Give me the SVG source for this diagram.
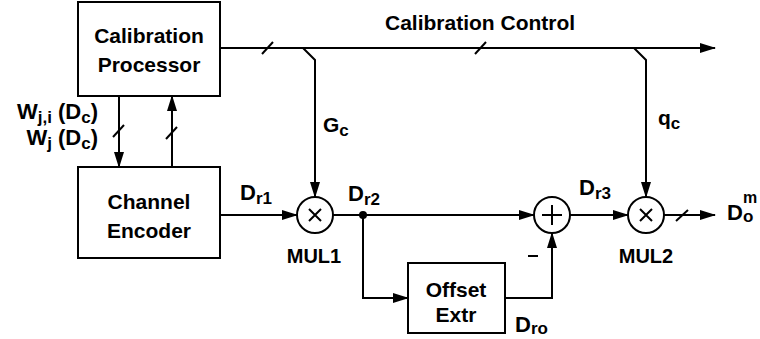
<svg xmlns="http://www.w3.org/2000/svg" width="760" height="339" viewBox="0 0 760 339">
<style>
.ln{fill:none;stroke:#000;stroke-width:2}
.bx{fill:#fff;stroke:#000;stroke-width:2}
.t{font-family:"Liberation Sans",Arial,sans-serif;font-weight:bold;font-size:21px;fill:#000}
.m{font-size:20px}
.l{font-size:22px}
.s{font-size:17px}
</style>
<defs>
<marker id="ar" markerWidth="16" markerHeight="12" refX="15" refY="6" orient="auto" markerUnits="userSpaceOnUse">
<path d="M0,1 L16,6 L0,11 Z" fill="#000"/>
</marker>
</defs>
<rect width="760" height="339" fill="#fff"/>
<g id="connectors">
<path class="ln" d="M220,48 H715" marker-end="url(#ar)"/>
<path class="ln" d="M262,54 L273,42"/>
<path class="ln" d="M475,54 L486,42"/>
<path class="ln" d="M303,48 L315,60 V197" marker-end="url(#ar)"/>
<path class="ln" d="M634,48 L646,60 V197" marker-end="url(#ar)"/>
<path class="ln" d="M119,96 V167" marker-end="url(#ar)"/>
<path class="ln" d="M113,137 L124,125"/>
<path class="ln" d="M172,167 V96" marker-end="url(#ar)"/>
<path class="ln" d="M166,139 L177,127"/>
<path class="ln" d="M220,215 H297" marker-end="url(#ar)"/>
<path class="ln" d="M333,215 H534" marker-end="url(#ar)"/>
<circle cx="363" cy="215" r="4" fill="#000"/>
<path class="ln" d="M363,215 V298 H408" marker-end="url(#ar)"/>
<path class="ln" d="M505,298 H552 V233" marker-end="url(#ar)"/>
<path class="ln" d="M570,215 H628" marker-end="url(#ar)"/>
<path class="ln" d="M664,215 H715" marker-end="url(#ar)"/>
<path class="ln" d="M676,221 L688,210"/>
</g>
<g id="calib-proc">
<rect class="bx" x="78" y="2" width="142" height="94"/>
<text class="t" x="149" y="43" text-anchor="middle">Calibration</text>
<text class="t" x="149" y="72" text-anchor="middle">Processor</text>
</g>
<g id="channel-enc">
<rect class="bx" x="78" y="167" width="142" height="91"/>
<text class="t" x="149" y="209" text-anchor="middle">Channel</text>
<text class="t" x="149" y="238" text-anchor="middle">Encoder</text>
</g>
<g id="mul1">
<circle class="bx" cx="315" cy="215" r="18"/>
<path class="ln" d="M309,209 L321,221 M321,209 L309,221"/>
<text class="t m" x="314" y="263" text-anchor="middle">MUL1</text>
</g>
<g id="adder">
<circle class="bx" cx="552" cy="215" r="18"/>
<path class="ln" d="M552,205 V225 M542,215 H562"/>
<path class="ln" d="M528,256 H538"/>
</g>
<g id="mul2">
<circle class="bx" cx="646" cy="215" r="18"/>
<path class="ln" d="M640,209 L652,221 M652,209 L640,221"/>
<text class="t m" x="646" y="263" text-anchor="middle">MUL2</text>
</g>
<g id="offset-extr">
<rect class="bx" x="408" y="263" width="97" height="70"/>
<text class="t" x="456" y="297" text-anchor="middle">Offset</text>
<text class="t" x="456" y="322" text-anchor="middle">Extr</text>
</g>
<g id="labels">
<text class="t" x="385" y="30">Calibration Control</text>
<text class="t l" x="98" y="119" text-anchor="end">W<tspan class="s" dy="4">j,i</tspan><tspan dy="-4"> (D</tspan><tspan class="s" dy="4">c</tspan><tspan dy="-4">)</tspan></text>
<text class="t l" x="98" y="145" text-anchor="end">W<tspan class="s" dy="4">j</tspan><tspan dy="-4"> (D</tspan><tspan class="s" dy="4">c</tspan><tspan dy="-4">)</tspan></text>
<text class="t" x="323" y="132">G<tspan class="s" dy="4">c</tspan></text>
<text class="t" x="658" y="125">q<tspan class="s" dy="4">c</tspan></text>
<text class="t l" x="240" y="200">D<tspan class="s" dy="4">r1</tspan></text>
<text class="t l" x="348" y="201">D<tspan class="s" dy="4">r2</tspan></text>
<text class="t l" x="579" y="195">D<tspan class="s" dy="4">r3</tspan></text>
<text class="t l" x="515" y="332">D<tspan class="s" dy="2">ro</tspan></text>
<text class="t l" x="727" y="220">D<tspan class="s" dy="2">o</tspan></text>
<text class="t" x="743" y="203" style="font-size:16px">m</text>
</g>
</svg>
